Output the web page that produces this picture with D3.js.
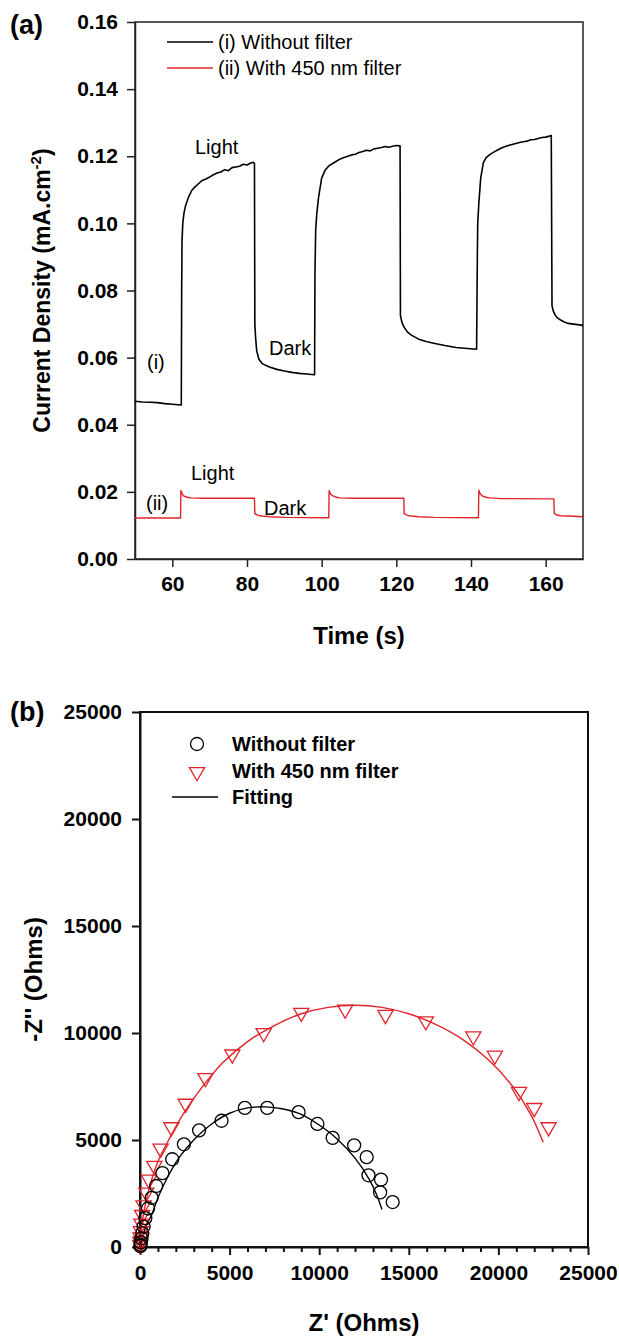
<!DOCTYPE html>
<html>
<head>
<meta charset="utf-8">
<script src="https://cdn.jsdelivr.net/npm/d3@7"></script>
<style>
  body { margin: 0; background: #fff; }
  svg { display: block; }
  text { font-family: "Liberation Sans", Arial, Helvetica, sans-serif; fill: #000; }
</style>
</head>
<body>
<svg id="fig" width="619" height="1337"></svg>
<script>
// ---------- Panel (a): chronoamperometry, time (s) vs current density (mA/cm2) ----------
const timeTicks = [60, 80, 100, 120, 140, 160];
const currentTicks = [0, 0.02, 0.04, 0.06, 0.08, 0.10, 0.12, 0.14, 0.16];

// (i) without filter: [time, current]
const curveWithout = [
  [50, 0.0470], [52, 0.0468], [54, 0.0467], [56, 0.0466], [58, 0.0463], [60, 0.0461], [62.3, 0.0459],
  [62.4, 0.0459], [62.5, 0.0800], [62.6, 0.0950], [62.8, 0.1000], [63.1, 0.1030], [63.6, 0.1055],
  [64.4, 0.1080], [65.2, 0.1098], [66, 0.1108], [67, 0.1118], [68, 0.1128], [69, 0.1132], [70, 0.1138],
  [71, 0.1145], [72, 0.1150], [73, 0.1153], [74, 0.1160], [75, 0.1157], [76, 0.1166], [77, 0.1168],
  [78, 0.1170], [79, 0.1176], [80, 0.1174], [81, 0.1180], [81.7, 0.1182], [82, 0.1178],
  [82.1, 0.0700], [82.3, 0.0660], [82.6, 0.0620], [83.2, 0.0595], [84, 0.0583], [85, 0.0577],
  [86, 0.0572], [88, 0.0565], [90, 0.0560], [92, 0.0556], [94, 0.0553], [96, 0.0551], [98, 0.0549],
  [98.1, 0.0549], [98.2, 0.0850], [98.4, 0.0980], [98.7, 0.1030], [99.2, 0.1080], [100, 0.1135],
  [101, 0.1160], [102, 0.1172], [103.5, 0.1182], [105, 0.1192], [106, 0.1196], [107, 0.1200],
  [108, 0.1204], [109, 0.1206], [110, 0.1211], [111, 0.1214], [112, 0.1218], [113, 0.1216],
  [114, 0.1222], [115, 0.1224], [116, 0.1226], [117, 0.1229], [118, 0.1227], [119, 0.1230],
  [120, 0.1232], [121, 0.1231],
  [121.1, 0.0725], [121.5, 0.0705], [122, 0.0692], [123, 0.0676], [124, 0.0667], [126, 0.0655],
  [128, 0.0648], [130, 0.0643], [133, 0.0636], [136, 0.0630], [139, 0.0627], [141.5, 0.0625],
  [141.7, 0.0900], [141.8, 0.1000], [142.1, 0.1060], [142.6, 0.1135], [143.3, 0.1180], [144, 0.1195],
  [145, 0.1205], [146.2, 0.1213], [147, 0.1218], [148, 0.1224], [149, 0.1228], [150, 0.1232],
  [151, 0.1235], [152, 0.1238], [153, 0.1241], [154, 0.1243], [155, 0.1245], [156, 0.1249],
  [157, 0.1250], [158, 0.1253], [159, 0.1256], [160, 0.1257], [161, 0.1260], [161.5, 0.1262],
  [161.7, 0.0755], [162, 0.0740], [162.5, 0.0728], [163, 0.0720], [164, 0.0712], [165, 0.0706],
  [166, 0.0702], [168, 0.0699], [170, 0.0696]
];

// (ii) with 450 nm filter: [time, current]
const curveWith450 = [
  [50, 0.0122], [62.2, 0.0122], [62.3, 0.0205], [62.6, 0.0195], [63, 0.0188], [64, 0.0184],
  [65, 0.0182], [68, 0.0181], [82, 0.0181], [82.1, 0.0135], [83, 0.0130], [84, 0.0128],
  [86, 0.0126], [90, 0.0124], [101.9, 0.0123], [102, 0.0205], [102.3, 0.0195], [103, 0.0188],
  [104, 0.0184], [105, 0.0182], [108, 0.0181], [122, 0.0181], [122.1, 0.0135], [123, 0.0130],
  [124, 0.0128], [126, 0.0126], [130, 0.0124], [142, 0.0123], [142.1, 0.0206], [142.4, 0.0195],
  [143, 0.0188], [144, 0.0184], [145, 0.0182], [148, 0.0180], [162.2, 0.0179], [162.3, 0.0136],
  [163, 0.0131], [164, 0.0129], [166, 0.0128], [170, 0.0126]
];

// ---------- Panel (b): Nyquist plot, Z' vs -Z'' (Ohms) ----------
const zTicks = [0, 5000, 10000, 15000, 20000, 25000];
const zMinorTicks = [1000, 2000, 3000, 4000, 6000, 7000, 8000, 9000, 11000, 12000, 13000, 14000,
                     16000, 17000, 18000, 19000, 21000, 22000, 23000, 24000];

// measured points [Z', -Z'']
const nyquistWithout = [
  [14100, 2100], [13400, 2550], [13450, 3150], [12750, 3350], [12650, 4200], [11950, 4750],
  [10750, 5100], [9900, 5750], [8850, 6300], [7100, 6500], [5850, 6500], [4550, 5900],
  [3300, 5450], [2450, 4800], [1800, 4100], [1250, 3450], [900, 2850], [650, 2300],
  [450, 1800], [300, 1350], [200, 950], [130, 650], [80, 400], [50, 220], [30, 100], [20, 40]
];
const nyquistWith450 = [
  [22800, 5600], [22000, 6500], [21150, 7250], [19800, 8950], [18600, 9850], [15950, 10550],
  [13700, 10850], [11450, 11100], [9000, 10950], [6900, 10000], [5150, 9000], [3650, 7900],
  [2550, 6700], [1750, 5600], [1150, 4600], [800, 3800], [500, 3150], [350, 2550], [200, 1950],
  [120, 1500], [80, 1100], [50, 750], [30, 450], [20, 250], [10, 100]
];

// fitted curves [Z', -Z'']
const fitWithout = [
  [0, 0], [150, 500], [350, 1000], [650, 1500], [1000, 2300], [1500, 3200], [2200, 4200],
  [3000, 5000], [4000, 5750], [5000, 6250], [6000, 6500], [7000, 6550], [8000, 6450],
  [9000, 6200], [10000, 5700], [11000, 5050], [12000, 4150], [12800, 3150], [13200, 2450],
  [13500, 1750]
];
const fitWith450 = [
  [0, 0], [100, 1000], [300, 2000], [600, 3000], [1000, 4000], [1600, 5000], [2400, 6200],
  [3400, 7400], [4600, 8600], [6000, 9600], [7500, 10350], [9000, 10900], [10500, 11200],
  [12000, 11300], [13500, 11200], [15000, 10900], [16500, 10400], [18000, 9700], [19500, 8700],
  [20800, 7500], [21800, 6200], [22500, 4900]
];

const RED = "#e0242b";
const svg = d3.select("#fig");

// ======================= Panel (a) =======================
const A = { left: 135, right: 583, top: 22, bottom: 559 };
const xA = d3.scaleLinear().domain([50, 170]).range([A.left, A.right]);
const yA = d3.scaleLinear().domain([0, 0.16]).range([A.bottom, A.top]);
const gA = svg.append("g");

gA.append("g")
  .attr("transform", `translate(0,${A.bottom})`)
  .call(d3.axisBottom(xA).tickValues(timeTicks).tickSize(8).tickPadding(9).tickSizeOuter(0).tickFormat(d3.format("d")))
  .call(g => g.selectAll("text").attr("font-size", 21).attr("font-weight", "bold").attr("font-family", "Liberation Sans, Arial, sans-serif"));
gA.append("g")
  .attr("transform", `translate(${A.left},0)`)
  .call(d3.axisLeft(yA).tickValues(currentTicks).tickSize(8).tickPadding(9).tickSizeOuter(0).tickFormat(d3.format(".2f")))
  .call(g => g.selectAll("text").attr("font-size", 21).attr("font-weight", "bold").attr("font-family", "Liberation Sans, Arial, sans-serif"));
gA.selectAll(".domain, .tick line").attr("stroke", "#222").attr("stroke-width", 1.5);

// frame
gA.append("rect").attr("x", A.left).attr("y", A.top)
  .attr("width", A.right - A.left).attr("height", A.bottom - A.top)
  .attr("fill", "none").attr("stroke", "#222").attr("stroke-width", 1.5);

const lineA = d3.line().x(d => xA(d[0])).y(d => yA(d[1]));
gA.append("path").datum(curveWith450).attr("d", lineA)
  .attr("fill", "none").attr("stroke", RED).attr("stroke-width", 1.4);
gA.append("path").datum(curveWithout).attr("d", lineA)
  .attr("fill", "none").attr("stroke", "#000").attr("stroke-width", 1.6).attr("stroke-linejoin", "round");

// legend
const legA = [
  { label: "(i) Without filter", color: "#000", y: 42 },
  { label: "(ii) With 450 nm filter", color: RED, y: 68 }
];
legA.forEach(l => {
  gA.append("line").attr("x1", 167).attr("x2", 213).attr("y1", l.y).attr("y2", l.y)
    .attr("stroke", l.color).attr("stroke-width", 1.5);
  gA.append("text").attr("x", 218).attr("y", l.y).attr("dy", "0.35em")
    .attr("font-size", 20).text(l.label);
});

// annotations
const notesA = [
  { t: "Light", x: 195, y: 147 }, { t: "Dark", x: 269, y: 348 }, { t: "(i)", x: 147, y: 362 },
  { t: "Light", x: 191, y: 473 }, { t: "Dark", x: 264, y: 508 }, { t: "(ii)", x: 146, y: 503 }
];
notesA.forEach(n => gA.append("text").attr("x", n.x).attr("y", n.y).attr("dy", "0.35em")
  .attr("font-size", 20).text(n.t));

svg.append("text").attr("x", 10).attr("y", 25).attr("dy", "0.35em")
  .attr("font-size", 27).attr("font-weight", "bold").text("(a)");

svg.append("text").attr("x", (A.left + A.right) / 2).attr("y", 636).attr("dy", "0.35em")
  .attr("text-anchor", "middle").attr("font-size", 24).attr("font-weight", "bold").text("Time (s)");

const yLabA = svg.append("text")
  .attr("transform", `translate(42,${(A.top + A.bottom) / 2}) rotate(-90)`)
  .attr("text-anchor", "middle").attr("dy", "0.35em")
  .attr("font-size", 23).attr("font-weight", "bold");
yLabA.append("tspan").text("Current Density (mA.cm");
yLabA.append("tspan").attr("font-size", 15).attr("dy", "-0.6em").text("-2");
yLabA.append("tspan").attr("dy", "0.4em").text(")");

// ======================= Panel (b) =======================
const B = { left: 140, right: 588, top: 712, bottom: 1247 };
const xB = d3.scaleLinear().domain([0, 25000]).range([B.left, B.right]);
const yB = d3.scaleLinear().domain([0, 25000]).range([B.bottom, B.top]);
const gB = svg.append("g");

gB.append("g")
  .attr("transform", `translate(0,${B.bottom})`)
  .call(d3.axisBottom(xB).tickValues(zMinorTicks).tickSize(5).tickFormat(""))
  .call(g => g.select(".domain").remove());
gB.append("g")
  .attr("transform", `translate(0,${B.bottom})`)
  .call(d3.axisBottom(xB).tickValues(zTicks).tickSize(8).tickPadding(10).tickSizeOuter(0).tickFormat(d3.format("d")))
  .call(g => g.selectAll("text").attr("font-size", 21).attr("font-weight", "bold").attr("font-family", "Liberation Sans, Arial, sans-serif"));
gB.append("g")
  .attr("transform", `translate(${B.left},0)`)
  .call(d3.axisLeft(yB).tickValues(zTicks).tickSize(8).tickPadding(10).tickSizeOuter(0).tickFormat(d3.format("d")))
  .call(g => g.selectAll("text").attr("font-size", 21).attr("font-weight", "bold").attr("font-family", "Liberation Sans, Arial, sans-serif"));
gB.selectAll(".domain, .tick line").attr("stroke", "#111").attr("stroke-width", 2);

gB.append("rect").attr("x", B.left).attr("y", B.top)
  .attr("width", B.right - B.left).attr("height", B.bottom - B.top)
  .attr("fill", "none").attr("stroke", "#111").attr("stroke-width", 2);

const lineB = d3.line().x(d => xB(d[0])).y(d => yB(d[1])).curve(d3.curveCatmullRom);
gB.append("path").datum(fitWith450).attr("d", lineB)
  .attr("fill", "none").attr("stroke", RED).attr("stroke-width", 1.4);
gB.append("path").datum(fitWithout).attr("d", lineB)
  .attr("fill", "none").attr("stroke", "#000").attr("stroke-width", 1.4);

const tri = d3.symbol().type(d3.symbolTriangle).size(100);
gB.append("g").selectAll("path").data(nyquistWith450).join("path")
  .attr("d", tri)
  .attr("transform", d => `translate(${xB(d[0])},${yB(d[1])}) rotate(180)`)
  .attr("fill", "none").attr("stroke", RED).attr("stroke-width", 1.3);
gB.append("g").selectAll("circle").data(nyquistWithout).join("circle")
  .attr("cx", d => xB(d[0])).attr("cy", d => yB(d[1])).attr("r", 6.5)
  .attr("fill", "none").attr("stroke", "#000").attr("stroke-width", 1.3);

// legend
gB.append("circle").attr("cx", 197).attr("cy", 744).attr("r", 6.5)
  .attr("fill", "none").attr("stroke", "#000").attr("stroke-width", 1.3);
gB.append("path").attr("d", tri).attr("transform", "translate(197,772) rotate(180)")
  .attr("fill", "none").attr("stroke", RED).attr("stroke-width", 1.3);
gB.append("line").attr("x1", 172).attr("x2", 218).attr("y1", 797).attr("y2", 797)
  .attr("stroke", "#000").attr("stroke-width", 1.5);
[["Without filter", 744], ["With 450 nm filter", 771], ["Fitting", 797]].forEach(([t, y]) =>
  gB.append("text").attr("x", 232).attr("y", y).attr("dy", "0.35em")
    .attr("font-size", 20).attr("font-weight", "bold").text(t));

svg.append("text").attr("x", 10).attr("y", 712).attr("dy", "0.35em")
  .attr("font-size", 27).attr("font-weight", "bold").text("(b)");

svg.append("text").attr("x", (B.left + B.right) / 2).attr("y", 1323).attr("dy", "0.35em")
  .attr("text-anchor", "middle").attr("font-size", 24).attr("font-weight", "bold").text("Z' (Ohms)");
svg.append("text")
  .attr("transform", `translate(34,${(B.top + B.bottom) / 2}) rotate(-90)`)
  .attr("text-anchor", "middle").attr("dy", "0.35em")
  .attr("font-size", 24).attr("font-weight", "bold").text("-Z'' (Ohms)");
</script>
</body>
</html>
